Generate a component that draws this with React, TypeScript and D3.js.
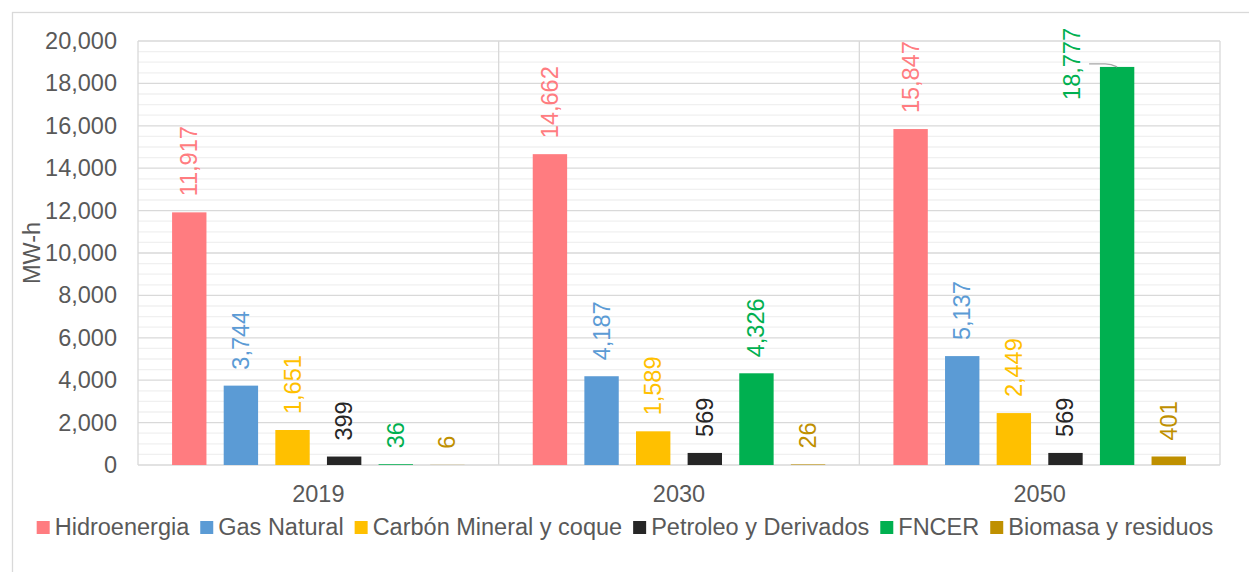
import React, { useEffect, useRef } from "react";
import * as d3 from "d3";

// Generación por fuente energética (MW-h)
const years = ["2019", "2030", "2050"];
const sources = [
  "Hidroenergia",
  "Gas Natural",
  "Carbón Mineral y coque",
  "Petroleo y Derivados",
  "FNCER",
  "Biomasa y residuos",
];
const colors = ["#FF7C80", "#5B9BD5", "#FFC000", "#262626", "#00B050", "#BF9000"];

const hidroenergia = [11917, 14662, 15847];
const gasNatural = [3744, 4187, 5137];
const carbon = [1651, 1589, 2449];
const petroleo = [399, 569, 569];
const fncer = [36, 4326, 18777];
const biomasa = [6, 26, 401];

const seriesValues = [hidroenergia, gasNatural, carbon, petroleo, fncer, biomasa];
const yTicks = [0, 2000, 4000, 6000, 8000, 10000, 12000, 14000, 16000, 18000, 20000];

const W = 1249;
const H = 572;
const FONT = "'Liberation Sans', Arial, sans-serif";
const FS = 23.5;

export default function App() {
  const ref = useRef<SVGSVGElement | null>(null);

  useEffect(() => {
    const svg = d3.select(ref.current);
    svg.selectAll("*").remove();

    const plot = { left: 138, right: 1220, top: 41, bottom: 465 };

    // outer chart frame
    svg
      .append("rect")
      .attr("x", 12.5)
      .attr("y", 12.5)
      .attr("width", 1300)
      .attr("height", 700)
      .attr("fill", "#fff")
      .attr("stroke", "#D9D9D9")
      .attr("stroke-width", 1.3);

    const y = d3.scaleLinear().domain([0, 20000]).range([plot.bottom, plot.top]);
    const x0 = d3.scaleBand<string>().domain(years).range([plot.left, plot.right]).padding(0);
    const x1 = d3
      .scaleBand<string>()
      .domain(sources)
      .range([0, x0.bandwidth()])
      .paddingInner(0.334)
      .paddingOuter(0.66);

    const g = svg.append("g");

    // minor gridlines
    const minor = d3.range(500, 20000, 500).filter((v) => v % 2000 !== 0);
    g.selectAll("line.minor")
      .data(minor)
      .join("line")
      .attr("x1", plot.left)
      .attr("x2", plot.right)
      .attr("y1", (d) => y(d))
      .attr("y2", (d) => y(d))
      .attr("stroke", "#F0F0F0")
      .attr("stroke-width", 1.3);

    // major gridlines
    g.selectAll("line.major")
      .data(yTicks)
      .join("line")
      .attr("x1", plot.left)
      .attr("x2", plot.right)
      .attr("y1", (d) => y(d))
      .attr("y2", (d) => y(d))
      .attr("stroke", "#D9D9D9")
      .attr("stroke-width", 1.3);

    // vertical category separators and plot edges
    const vlines = [plot.left, ...years.slice(1).map((yr) => x0(yr) as number), plot.right];
    g.selectAll("line.v")
      .data(vlines)
      .join("line")
      .attr("x1", (d) => d)
      .attr("x2", (d) => d)
      .attr("y1", plot.top)
      .attr("y2", plot.bottom)
      .attr("stroke", "#D9D9D9")
      .attr("stroke-width", 1.3);

    // y tick labels
    const fmt = d3.format(",");
    g.selectAll("text.ytick")
      .data(yTicks)
      .join("text")
      .attr("x", 117)
      .attr("y", (d) => y(d))
      .attr("text-anchor", "end")
      .attr("dominant-baseline", "central")
      .attr("font-family", FONT)
      .attr("font-size", FS)
      .attr("fill", "#595959")
      .text((d) => fmt(d));

    // y axis title
    g.append("text")
      .attr("transform", `translate(32,${(plot.top + plot.bottom) / 2}) rotate(-90)`)
      .attr("text-anchor", "middle")
      .attr("dominant-baseline", "central")
      .attr("font-family", FONT)
      .attr("font-size", FS)
      .attr("fill", "#595959")
      .text("MW-h");

    // bars
    type Cell = { year: string; source: string; value: number; si: number };
    const cells: Cell[] = [];
    years.forEach((yr, yi) =>
      sources.forEach((s, si) => cells.push({ year: yr, source: s, value: seriesValues[si][yi], si }))
    );

    g.selectAll("rect.bar")
      .data(cells)
      .join("rect")
      .attr("x", (d) => (x0(d.year) as number) + (x1(d.source) as number))
      .attr("y", (d) => y(d.value))
      .attr("width", x1.bandwidth())
      .attr("height", (d) => y(0) - y(d.value))
      .attr("fill", (d) => colors[d.si]);

    // data labels, rotated, sitting above each bar
    const cx = (d: Cell) => (x0(d.year) as number) + (x1(d.source) as number) + x1.bandwidth() / 2;
    const moved = (d: Cell) => d.year === "2050" && d.source === "FNCER";

    g.selectAll("text.lbl")
      .data(cells)
      .join("text")
      .attr("transform", (d) =>
        moved(d)
          ? `translate(${cx(d) - 45},${y(d.value) + 33}) rotate(-90)`
          : `translate(${cx(d)},${y(d.value) - 16}) rotate(-90)`
      )
      .attr("text-anchor", "start")
      .attr("dominant-baseline", "central")
      .attr("font-family", FONT)
      .attr("font-size", FS)
      .attr("fill", (d) => colors[d.si])
      .text((d) => fmt(d.value));

    // leader line for the displaced label
    cells.filter(moved).forEach((d) => {
      const bx = cx(d);
      const by = y(d.value);
      g.append("path")
        .attr("d", `M${bx - 28},${by - 3} L${bx - 12},${by - 3} Q${bx - 6},${by - 3} ${bx},${by}`)
        .attr("fill", "none")
        .attr("stroke", "#A6A6A6")
        .attr("stroke-width", 1.3);
    });

    // category labels
    g.selectAll("text.cat")
      .data(years)
      .join("text")
      .attr("x", (d) => (x0(d) as number) + x0.bandwidth() / 2)
      .attr("y", 494)
      .attr("text-anchor", "middle")
      .attr("dominant-baseline", "central")
      .attr("font-family", FONT)
      .attr("font-size", FS)
      .attr("fill", "#595959")
      .text((d) => d);

    // legend, centred
    const leg = svg.append("g");
    const sq = 13;
    const gapSqText = 5;
    const gapItem = 11;
    const items = leg
      .selectAll("g.item")
      .data(sources)
      .join("g");
    items
      .append("rect")
      .attr("width", sq)
      .attr("height", sq)
      .attr("y", 521)
      .attr("fill", (_d, i) => colors[i]);
    const texts = items
      .append("text")
      .attr("y", 535)
      .attr("font-family", FONT)
      .attr("font-size", FS)
      .attr("fill", "#595959")
      .text((d) => d);
    const widths: number[] = [];
    texts.each(function () {
      widths.push((this as SVGTextElement).getComputedTextLength());
    });
    const total =
      widths.reduce((a, b) => a + b, 0) + sources.length * (sq + gapSqText) + (sources.length - 1) * gapItem;
    let cur = 625 - total / 2;
    items.each(function (_d, i) {
      const it = d3.select(this);
      it.select("rect").attr("x", cur);
      it.select("text").attr("x", cur + sq + gapSqText);
      cur += sq + gapSqText + widths[i] + gapItem;
    });
  }, []);

  return (
    <svg
      ref={ref}
      width={W}
      height={H}
      style={{ position: "absolute", left: 0, top: 0, background: "#fff" }}
    />
  );
}
